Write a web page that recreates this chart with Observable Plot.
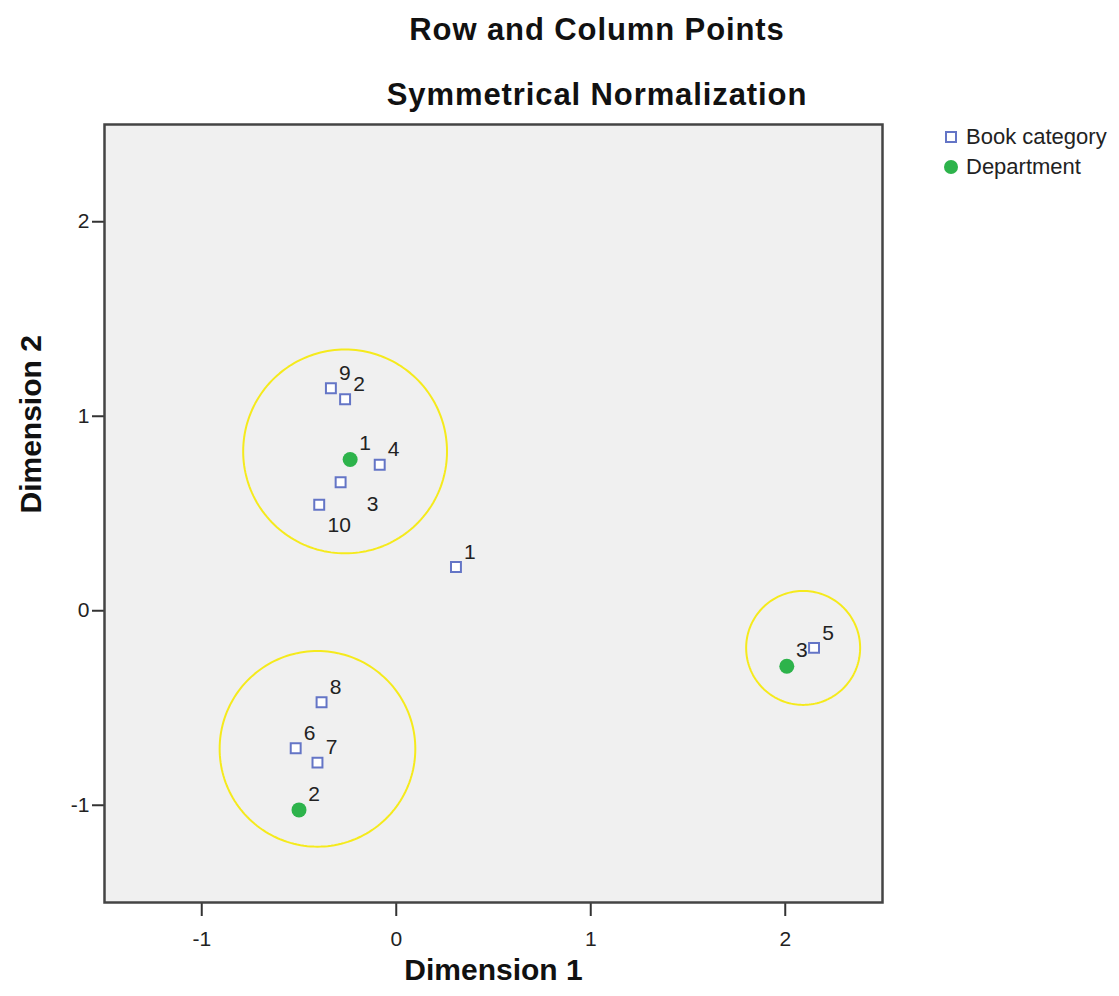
<!DOCTYPE html>
<html>
<head>
<meta charset="utf-8">
<script src="https://cdn.jsdelivr.net/npm/d3@7"></script>
<script src="https://cdn.jsdelivr.net/npm/@observablehq/plot@0.6"></script>
<style>
  body { margin: 0; background: #fff; font-family: Arial, "Liberation Sans", sans-serif; }
  #wrap { position: relative; width: 1119px; height: 996px; overflow: hidden; }
  .title { position: absolute; left: 75px; width: 1044px; text-align: center; font-weight: bold;
           font-size: 31px; line-height: 31px; letter-spacing: 0.9px; color: #111; white-space: nowrap; }
  #chart { position: absolute; left: 0; top: 110px; }
  #legend { position: absolute; left: 944px; top: 122px; font-size: 22px; color: #222; }
  .row { display: flex; align-items: center; height: 30px; }
  .row svg { margin-right: 8px; }
</style>
</head>
<body>
<div id="wrap">
  <div class="title" id="t1" style="top:14px"></div>
  <div class="title" id="t2" style="top:79px"></div>
  <div id="chart"></div>
  <div id="legend"></div>
</div>
<script>
// ---- Data ----
const chartTitle = "Row and Column Points";
const chartSubtitle = "Symmetrical Normalization";
const xTitle = "Dimension 1";
const yTitle = "Dimension 2";
const seriesNames = ["Book category", "Department"];

const bookLabels = ["1", "2", "3", "4", "5", "6", "7", "8", "9", "10"];
const bookX = [0.307, -0.263, -0.286, -0.085, 2.148, -0.517, -0.405, -0.384, -0.336, -0.396];
const bookY = [0.225, 1.087, 0.661, 0.751, -0.191, -0.707, -0.781, -0.470, 1.144, 0.545];

const deptLabels = ["1", "2", "3"];
const deptX = [-0.237, -0.500, 2.008];
const deptY = [0.778, -1.024, -0.285];

const circleCenterX = [-0.263, -0.405, 2.092];
const circleCenterY = [0.819, -0.710, -0.191];
const circleRadius = [0.524, 0.503, 0.293];

const xTicks = [-1, 0, 1, 2];
const yTicks = [-1, 0, 1, 2];

// ---- Build tables ----
const books = bookLabels.map((l, i) => ({label: l, x: bookX[i], y: bookY[i]}));
const depts = deptLabels.map((l, i) => ({label: l, x: deptX[i], y: deptY[i]}));
const ringPts = [];
circleRadius.forEach((r, k) => {
  for (let a = 0; a < 360; a += 2) {
    const t = a * Math.PI / 180;
    ringPts.push({id: k, x: circleCenterX[k] + r * Math.cos(t), y: circleCenterY[k] + r * Math.sin(t)});
  }
});

const blue = "#6475c6", green = "#2db34b", yellow = "#f5ea1c";
const font = "Arial, 'Liberation Sans', sans-serif";

document.getElementById("t1").textContent = chartTitle;
document.getElementById("t2").textContent = chartSubtitle;

const labelStyle = {text: "label", x: "x", y: "y", fontSize: 21, fill: "#222", textAnchor: "middle", lineAnchor: "middle"};

const plot = Plot.plot({
  width: 1119, height: 886,
  marginLeft: 104, marginRight: 237, marginTop: 14, marginBottom: 94,
  x: {domain: [-1.5, 2.5]},
  y: {domain: [-1.5, 2.5]},
  style: {fontFamily: font, background: "transparent", color: "#222"},
  marks: [
    Plot.frame({fill: "#f0f0f0", stroke: "none"}),
    Plot.line(ringPts, {x: "x", y: "y", z: "id", stroke: yellow, strokeWidth: 2, curve: "linear-closed"}),
    Plot.dot(books, {x: "x", y: "y", symbol: "square", r: 5.6, stroke: blue, strokeWidth: 2, fill: "#fff"}),
    Plot.dot(depts, {x: "x", y: "y", r: 7.5, fill: green, stroke: "none"}),
    Plot.text(books.filter(d => d.label !== "3" && d.label !== "10"), {...labelStyle, dx: 14, dy: -15}),
    Plot.text(books.filter(d => d.label === "3"), {...labelStyle, dx: 32, dy: 22}),
    Plot.text(books.filter(d => d.label === "10"), {...labelStyle, dx: 20, dy: 21}),
    Plot.text(depts, {...labelStyle, dx: 15, dy: -16}),
    Plot.axisX({ticks: xTicks, tickFormat: d => String(d), tickSize: 14, tickPadding: 15, fontSize: 21,
                stroke: "#333", strokeWidth: 2, fill: "#222", label: null}),
    Plot.axisY({ticks: yTicks, tickFormat: d => String(d), tickSize: 12, tickPadding: 3, fontSize: 21,
                stroke: "#333", strokeWidth: 2, fill: "#222", label: null}),
    Plot.text([xTitle], {frameAnchor: "bottom", dy: 77, fontSize: 30, fontWeight: "bold", fill: "#111"}),
    Plot.text([yTitle], {frameAnchor: "left", dx: -73, rotate: -90, fontSize: 30, fontWeight: "bold", fill: "#111"}),
    Plot.frame({stroke: "#444", strokeWidth: 2.5})
  ]
});
document.getElementById("chart").appendChild(plot);

// ---- Legend ----
const legend = document.getElementById("legend");
seriesNames.forEach((name, i) => {
  const row = document.createElement("div");
  row.className = "row";
  const sw = i === 0
    ? `<svg width="14" height="14"><rect x="2" y="2" width="10" height="10" fill="#fff" stroke="${blue}" stroke-width="2"/></svg>`
    : `<svg width="14" height="14"><circle cx="7" cy="7" r="7" fill="${green}"/></svg>`;
  row.innerHTML = sw + `<span>${name}</span>`;
  legend.appendChild(row);
});
</script>
</body>
</html>
